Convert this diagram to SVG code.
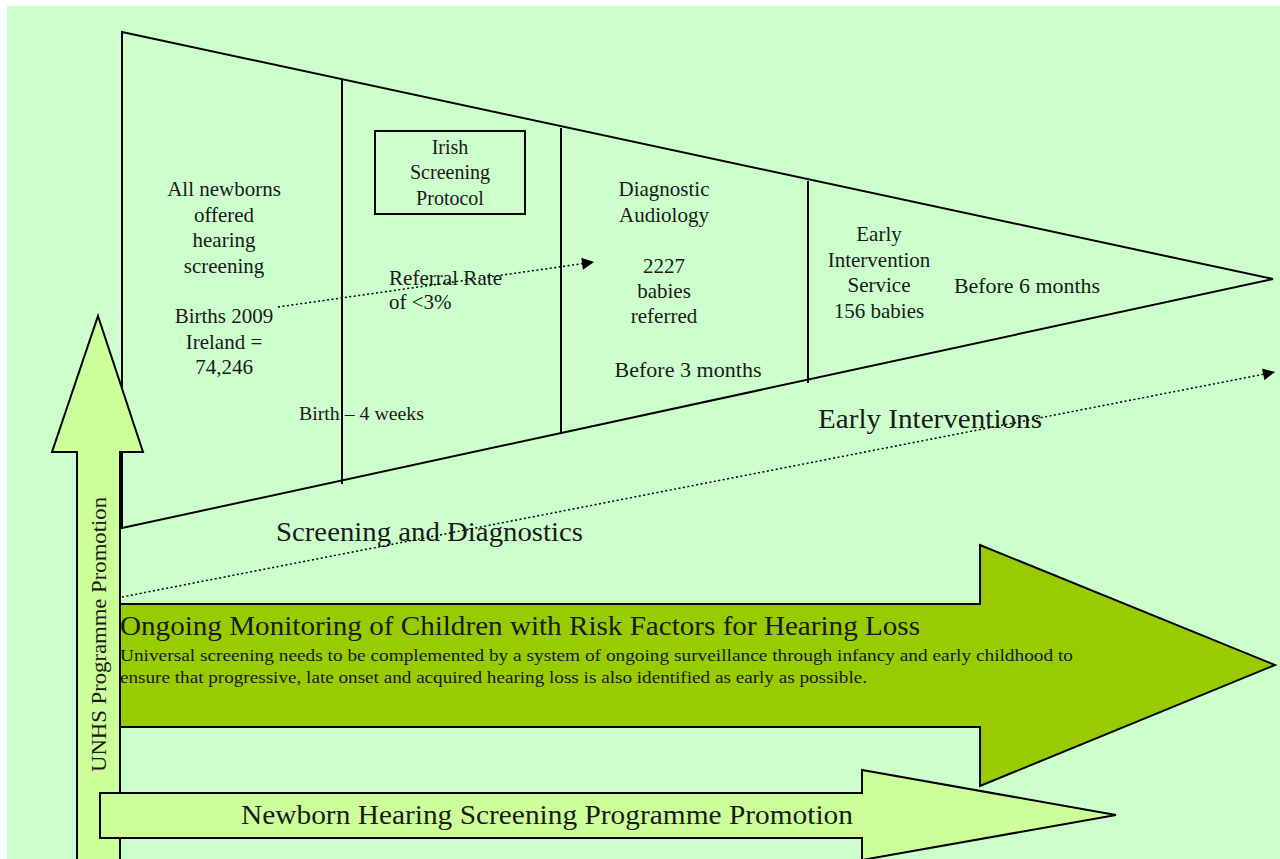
<svg xmlns="http://www.w3.org/2000/svg" width="1280" height="859" viewBox="0 0 1280 859">
<style>
.t{font-family:"Liberation Serif","Times New Roman",serif;fill:#1a1a1a}
.c{text-anchor:middle}
.ln{stroke:#000;stroke-width:2;fill:none}
.dot{stroke:#000;stroke-width:1.5;stroke-dasharray:2 2.5;fill:none}
</style>
<defs>
<marker id="ah" viewBox="0 0 10 10" refX="10" refY="5" markerWidth="14" markerHeight="12" markerUnits="userSpaceOnUse" orient="auto">
<path d="M0,0 L10,5 L0,10 Z" fill="#000"/>
</marker>
</defs>
<rect x="0" y="0" width="1280" height="859" fill="#ffffff"/>
<rect x="7" y="6" width="1273" height="853" fill="#CCFFCC"/>

<g id="funnel">
<polygon points="122,32 1273,279 122,528" fill="#CCFFCC" stroke="#000" stroke-width="2"/>
<line class="ln" x1="342" y1="79" x2="342" y2="484"/>
<line class="ln" x1="561" y1="128" x2="561" y2="434"/>
<line class="ln" x1="808" y1="181" x2="808" y2="383"/>
</g>

<g id="stage1">
<text class="t c" font-size="21"><tspan x="224" y="196">All newborns</tspan><tspan x="224" y="222">offered</tspan><tspan x="224" y="247">hearing</tspan><tspan x="224" y="273">screening</tspan></text>
<text class="t c" font-size="21"><tspan x="224" y="323">Births 2009</tspan><tspan x="224" y="349">Ireland =</tspan><tspan x="224" y="374">74,246</tspan></text>
</g>

<g id="stage2">
<text class="t" font-size="19" x="299" y="420" textLength="125" lengthAdjust="spacingAndGlyphs">Birth – 4 weeks</text>
<text class="t" font-size="21"><tspan x="389" y="285" textLength="113" lengthAdjust="spacingAndGlyphs">Referral Rate</tspan><tspan x="389" y="309">of &lt;3%</tspan></text>
</g>

<g id="protocol">
<rect x="375" y="131" width="150" height="83" fill="none" stroke="#000" stroke-width="2"/>
<text class="t c" font-size="20"><tspan x="450" y="154">Irish</tspan><tspan x="450" y="179">Screening</tspan><tspan x="450" y="205">Protocol</tspan></text>
</g>

<g id="stage3">
<text class="t c" font-size="21"><tspan x="664" y="196">Diagnostic</tspan><tspan x="664" y="222">Audiology</tspan></text>
<text class="t c" font-size="21"><tspan x="664" y="273">2227</tspan><tspan x="664" y="298">babies</tspan><tspan x="664" y="323">referred</tspan></text>
<text class="t c" font-size="21" x="688" y="377" textLength="147" lengthAdjust="spacingAndGlyphs">Before 3 months</text>
</g>

<g id="stage4">
<text class="t c" font-size="21"><tspan x="879" y="241">Early</tspan><tspan x="879" y="267">Intervention</tspan><tspan x="879" y="292">Service</tspan><tspan x="879" y="318">156 babies</tspan></text>
<text class="t" font-size="21" x="954" y="293" textLength="146" lengthAdjust="spacingAndGlyphs">Before 6 months</text>
</g>

<g id="labels">
<text class="t" font-size="27" x="818" y="428" textLength="224" lengthAdjust="spacingAndGlyphs">Early Interventions</text>
<text class="t" font-size="27" x="276" y="541" textLength="307" lengthAdjust="spacingAndGlyphs">Screening and Diagnostics</text>
</g>

<g id="monitoring">
<polygon points="120,604 980,604 980,545 1275,665 980,786 980,727 120,727" fill="#99CC00" stroke="#000" stroke-width="2"/>
<text class="t" font-size="27" x="120" y="635" textLength="800" lengthAdjust="spacingAndGlyphs">Ongoing Monitoring of Children with Risk Factors for Hearing Loss</text>
<text class="t" font-size="17" x="120" y="661" textLength="953" lengthAdjust="spacingAndGlyphs">Universal screening needs to be complemented by a system of ongoing surveillance through infancy and early childhood to</text>
<text class="t" font-size="17" x="120" y="683" textLength="747" lengthAdjust="spacingAndGlyphs">ensure that progressive, late onset and acquired hearing loss is also identified as early as possible.</text>
</g>

<g id="connectors">
<line class="dot" x1="278" y1="307" x2="594" y2="262" marker-end="url(#ah)"/>
<line class="dot" x1="122" y1="597" x2="1275" y2="372" marker-end="url(#ah)"/>
</g>

<g id="unhs">
<polygon points="98,316 143,452 120,452 120,862 77,862 77,452 52,452" fill="#CCFF99" stroke="#000" stroke-width="2"/>
<text class="t c" font-size="20" transform="translate(106,634.5) rotate(-90)" x="0" y="0" textLength="275" lengthAdjust="spacingAndGlyphs">UNHS Programme Promotion</text>
</g>

<g id="nhsp">
<polygon points="100,793 862,793 862,770 1116,815 862,860 862,838 100,838" fill="#CCFF99" stroke="#000" stroke-width="2"/>
<text class="t" font-size="27" x="241" y="824" textLength="612" lengthAdjust="spacingAndGlyphs">Newborn Hearing Screening Programme Promotion</text>
</g>
</svg>
